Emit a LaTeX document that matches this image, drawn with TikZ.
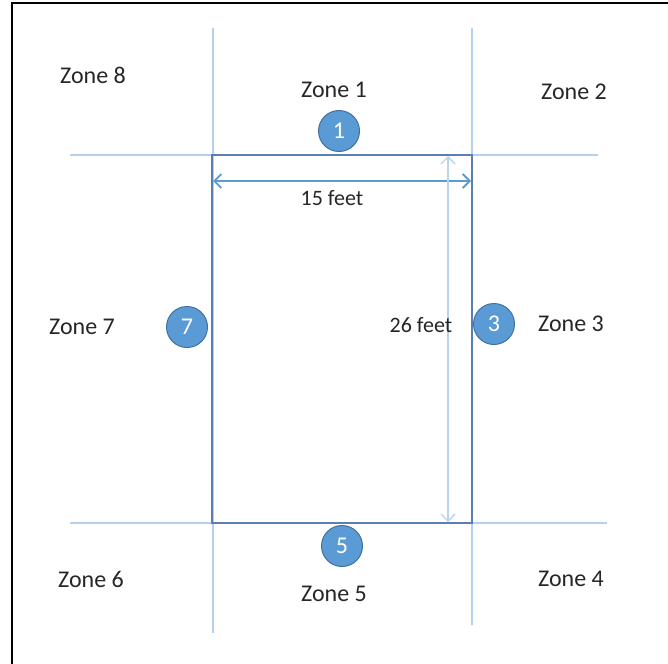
\documentclass[tikz,border=0pt]{standalone}
\usepackage{fontspec}
\setmainfont{Carlito}
\usetikzlibrary{arrows.meta}
\definecolor{roomblue}{HTML}{5A80B2}
\definecolor{guide}{HTML}{B4D0EC}
\definecolor{dimblue}{HTML}{5B9BD5}
\definecolor{dimlight}{HTML}{B9D5EE}
\definecolor{circfill}{HTML}{5B9BD5}
\definecolor{circedge}{HTML}{41719C}
\tikzset{
  zonelabel/.style={font=\fontsize{24}{28}\selectfont, text=black!85, inner sep=0pt},
  dimlabel/.style={font=\fontsize{22}{26}\selectfont, text=black!85, inner sep=0pt},
  marker/.style={circle, fill=circfill, draw=circedge, line width=1pt, minimum size=41pt, inner sep=0pt, text=white, font=\fontsize{24}{28}\selectfont},
  guideline/.style={draw=guide, line width=1.4pt},
  roombox/.style={draw=roomblue, line width=1.6pt, minimum width=260pt, minimum height=368pt, inner sep=0pt},
  dimarrow/.style={draw=dimblue, line width=1.8pt, {Straight Barb[length=7pt,width=14pt]}-{Straight Barb[length=7pt,width=14pt]}},
  dimarrowlight/.style={draw=dimlight, line width=1.4pt, {Straight Barb[length=7pt,width=14pt]}-{Straight Barb[length=7pt,width=14pt]}}
}
\begin{document}
\begin{tikzpicture}[x=1pt,y=-1pt]
\useasboundingbox (0,0) rectangle (668,663);
% frame
\draw[black, line width=2pt] (12,670) -- (12,3.5) -- (675,3.5);
% guide lines
\coordinate (vlt) at (213,28); \coordinate (vlb) at (213,633);
\coordinate (vrt) at (472,28); \coordinate (vrb) at (472,625);
\coordinate (htl) at (70,155); \coordinate (htr) at (598,155);
\coordinate (hbl) at (70,523); \coordinate (hbr) at (607,523);
\draw[guideline] (vlt) -- (vlb);
\draw[guideline] (vrt) -- (vrb);
\draw[guideline] (htl) -- (htr);
\draw[guideline] (hbl) -- (hbr);
% room
\node[roombox] (room) at (342,339) {};
% dimensions
\coordinate (wl) at (213,181); \coordinate (wr) at (471,181);
\draw[dimarrow] (wl) -- (wr);
\coordinate (ht) at (448,156); \coordinate (hb) at (448,522);
\draw[dimarrowlight] (ht) -- (hb);
\node[dimlabel] (w) at (332,198) {15 feet};
\node[dimlabel] (h) at (421,325) {26 feet};
% markers
\node[marker] (m1) at (339,131) {1};
\node[marker] (m3) at (494,324) {3};
\node[marker] (m5) at (342,546) {5};
\node[marker] (m7) at (187,327) {7};
% zones
\node[zonelabel] (z8) at (93,75) {Zone 8};
\node[zonelabel] (z1) at (334,90) {Zone 1};
\node[zonelabel] (z2) at (574,92) {Zone 2};
\node[zonelabel] (z7) at (82,327) {Zone 7};
\node[zonelabel] (z3) at (571,324) {Zone 3};
\node[zonelabel] (z6) at (91,579) {Zone 6};
\node[zonelabel] (z5) at (334,594) {Zone 5};
\node[zonelabel] (z4) at (571,579) {Zone 4};
\end{tikzpicture}
\end{document}
